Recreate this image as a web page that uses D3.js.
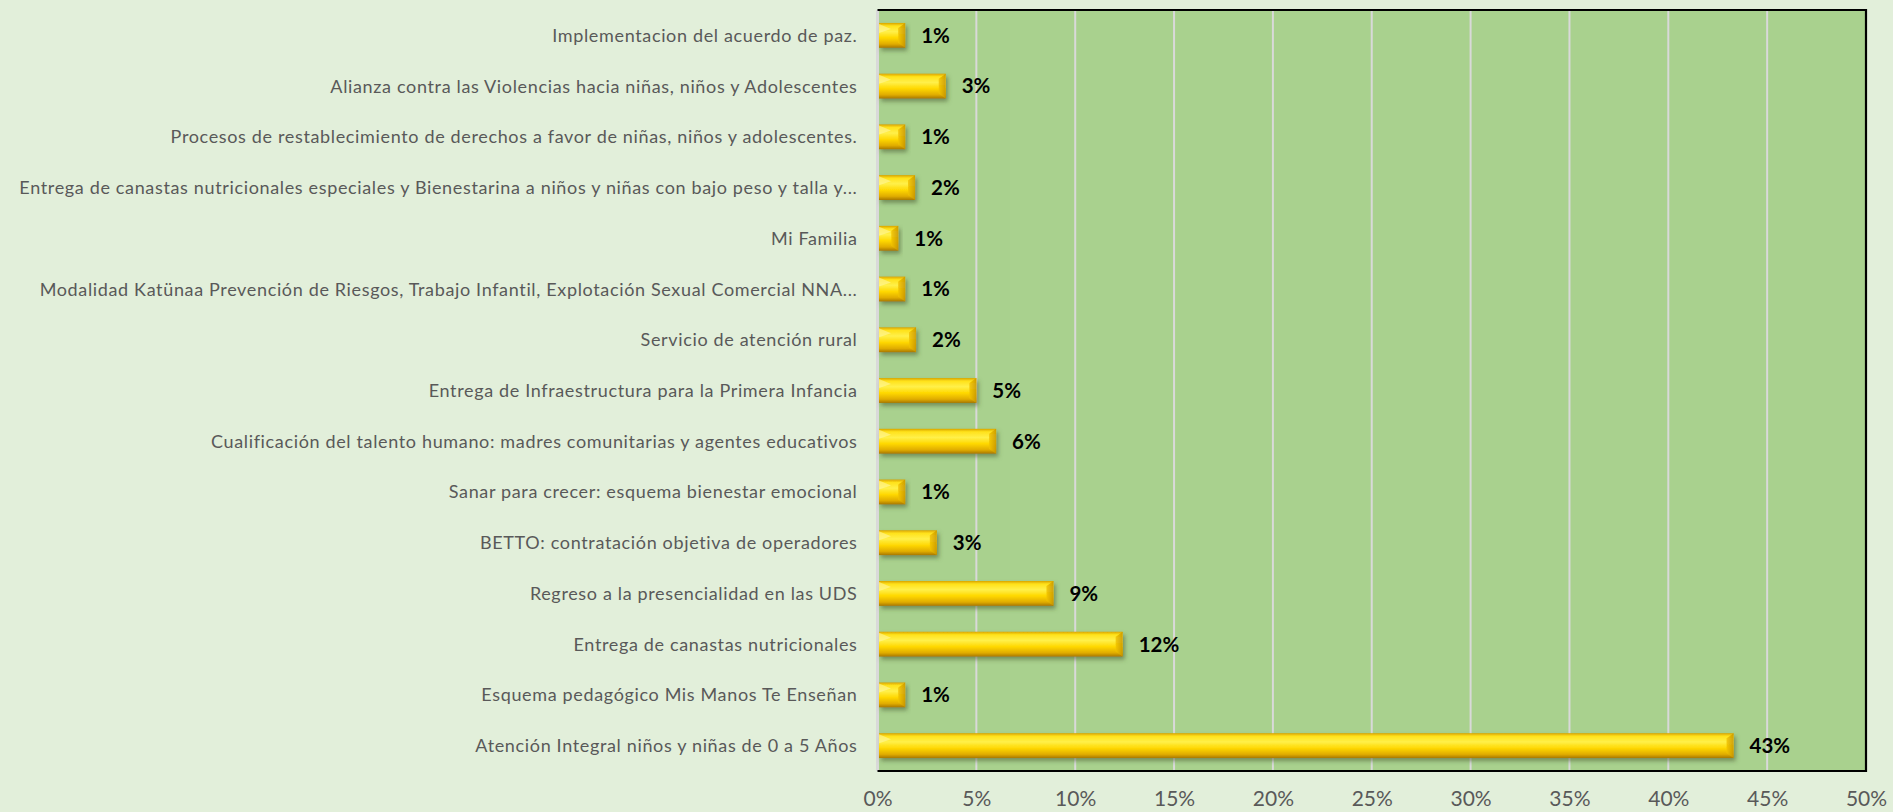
<!DOCTYPE html>
<html>
<head>
<meta charset="utf-8">
<script src="https://cdn.jsdelivr.net/npm/d3@7"></script>
<style>
  html, body { margin: 0; padding: 0; background: #E2EFDA; }
  svg { display: block; }
</style>
</head>
<body>
<svg id="chart" width="1893" height="812"></svg>
<script>
// ---- data ----
const categories = [
  "Implementacion del acuerdo de paz.",
  "Alianza contra las Violencias hacia niñas, niños y Adolescentes",
  "Procesos de restablecimiento de derechos a favor de niñas, niños y adolescentes.",
  "Entrega de canastas nutricionales especiales y Bienestarina a niños y niñas con bajo peso y talla y...",
  "Mi Familia",
  "Modalidad Katünaa  Prevención de Riesgos, Trabajo Infantil, Explotación Sexual Comercial NNA...",
  "Servicio de atención rural",
  "Entrega de Infraestructura para la Primera Infancia",
  "Cualificación del talento humano: madres comunitarias y agentes educativos",
  "Sanar para crecer: esquema bienestar emocional",
  "BETTO: contratación objetiva de operadores",
  "Regreso a la presencialidad en las UDS",
  "Entrega de canastas nutricionales",
  "Esquema pedagógico Mis Manos Te Enseñan",
  "Atención Integral niños y niñas de 0 a 5 Años"
];
const values = [0.014, 0.0345, 0.014, 0.019, 0.0105, 0.014, 0.0195, 0.050, 0.060, 0.014, 0.030, 0.089, 0.124, 0.014, 0.433];
const xTicks = [0, 0.05, 0.10, 0.15, 0.20, 0.25, 0.30, 0.35, 0.40, 0.45, 0.50];

// ---- layout ----
const W = 1893, H = 812;
const plot = { left: 877.5, right: 1866, top: 10, bottom: 771 };

const svg = d3.select("#chart");
svg.append("rect").attr("width", W).attr("height", H).attr("fill", "#E2EFDA");

const x = d3.scaleLinear().domain([0, 0.5]).range([plot.left, plot.right]);
const y = d3.scaleBand().domain(categories).range([plot.top, plot.bottom]).paddingInner(0.51).paddingOuter(0.255);

const defs = svg.append("defs");
const g1 = defs.append("linearGradient").attr("id", "gold").attr("x1", 0).attr("y1", 0).attr("x2", 0).attr("y2", 1);
[["0%", "#D9A400"], ["12%", "#FFE21A"], ["35%", "#FFF04A"], ["60%", "#FFD800"], ["85%", "#E0AC00"], ["100%", "#A87800"]]
  .forEach(([o, c]) => g1.append("stop").attr("offset", o).attr("stop-color", c));
const g2 = defs.append("linearGradient").attr("id", "cap").attr("x1", 0).attr("y1", 0).attr("x2", 1).attr("y2", 0);
[["0%", "#F2C400"], ["100%", "#C79500"]].forEach(([o, c]) => g2.append("stop").attr("offset", o).attr("stop-color", c));
const f = defs.append("filter").attr("id", "shadow").attr("x", "-10%").attr("y", "-30%").attr("width", "130%").attr("height", "180%");
f.append("feDropShadow").attr("dx", 2).attr("dy", 3).attr("stdDeviation", 2).attr("flood-color", "#4a5a30").attr("flood-opacity", 0.55);

// plot area
svg.append("rect")
  .attr("x", plot.left).attr("y", plot.top)
  .attr("width", plot.right - plot.left).attr("height", plot.bottom - plot.top)
  .attr("fill", "#A9D18E");

// gridlines
svg.append("g").selectAll("line").data(xTicks.filter(t => t > 0 && t < 0.5)).join("line")
  .attr("x1", d => x(d)).attr("x2", d => x(d))
  .attr("y1", plot.top).attr("y2", plot.bottom)
  .attr("stroke", "#D9D9D9").attr("stroke-width", 2);

// left axis line (light)
svg.append("line").attr("x1", plot.left).attr("x2", plot.left).attr("y1", plot.top).attr("y2", plot.bottom)
  .attr("stroke", "#D9D9D9").attr("stroke-width", 3);

// border top/right/bottom
svg.append("path")
  .attr("d", `M${plot.left},${plot.top}H${plot.right}V${plot.bottom}H${plot.left}`)
  .attr("fill", "none").attr("stroke", "#000").attr("stroke-width", 2.2);

// bars
const bh = y.bandwidth();
const bars = svg.append("g").selectAll("g").data(categories).join("g")
  .attr("filter", "url(#shadow)");
bars.append("rect")
  .attr("x", x(0) + 1.5).attr("y", d => y(d))
  .attr("width", (d, i) => x(values[i]) - x(0) - 1.5).attr("height", bh)
  .attr("fill", "url(#gold)");
// right bevel cap
bars.append("path")
  .attr("d", (d, i) => {
    const xe = x(values[i]), xs = Math.max(x(0) + 1.5, xe - 7), t = y(d), b = y(d) + bh;
    return `M${xs},${t + 5}L${xe},${t}L${xe},${b}L${xs},${b - 5}Z`;
  })
  .attr("fill", "url(#cap)").attr("opacity", 0.85);
// left highlight bevel
bars.append("path")
  .attr("d", d => {
    const xs = x(0) + 1.5, t = y(d);
    return `M${xs},${t + 1}L${xs + 12},${t + 6}L${xs},${t + 10}Z`;
  })
  .attr("fill", "#FFF7A0").attr("opacity", 0.6);

// value labels
svg.append("g").selectAll("text").data(categories).join("text")
  .attr("x", (d, i) => x(values[i]) + 16)
  .attr("y", d => y(d) + bh / 2)
  .attr("dy", "0.36em")
  .attr("font-family", "Lato, 'Open Sans', sans-serif")
  .attr("font-weight", "bold")
  .attr("font-size", 20.5)
  .attr("fill", "#000")
  .text((d, i) => d3.format(".0%")(values[i]));

// category labels
svg.append("g").selectAll("text").data(categories).join("text")
  .attr("x", plot.left - 20)
  .attr("y", d => y(d) + bh / 2)
  .attr("dy", "0.36em")
  .attr("text-anchor", "end")
  .attr("font-family", "Lato, 'Open Sans', sans-serif")
  .attr("font-size", 18)
  .attr("letter-spacing", "0.65px")
  .attr("fill", "#595959")
  .text(d => d);

// x axis labels
const xAxis = d3.axisBottom(x).tickValues(xTicks).tickFormat(d3.format(".0%")).tickSize(0).tickPadding(0);
const ax = svg.append("g").attr("transform", `translate(0,${plot.bottom})`).call(xAxis);
ax.select(".domain").remove();
ax.selectAll("text")
  .attr("y", 35).attr("dy", 0)
  .attr("font-family", "Lato, 'Open Sans', sans-serif")
  .attr("font-size", 21)
  .attr("fill", "#595959");
</script>
</body>
</html>
